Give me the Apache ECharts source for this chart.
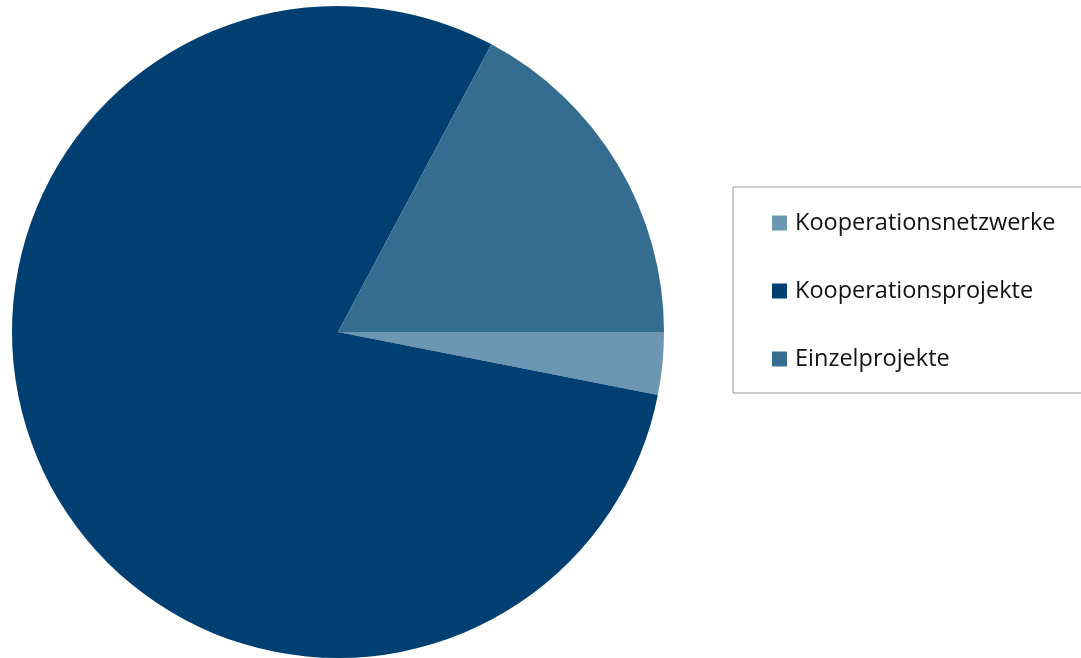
<!DOCTYPE html>
<html>
<head>
<meta charset="utf-8">
<script src="https://cdn.jsdelivr.net/npm/echarts@6/dist/echarts.min.js"></script>
<style>
html,body{margin:0;padding:0;background:#fff;}
#chart{width:1081px;height:658px;}
</style>
</head>
<body>
<div id="chart"></div>
<script>
const categories = ['Kooperationsnetzwerke', 'Kooperationsprojekte', 'Einzelprojekte'];
const values = [3.1, 79.7, 17.2];
const colors = ['#6b97b2', '#003f71', '#356d90'];

const chart = echarts.init(document.getElementById('chart'), null, {renderer: 'canvas'});
chart.setOption({
  animation: false,
  backgroundColor: '#ffffff',
  legend: {
    orient: 'vertical',
    left: 733,
    top: 187,
    padding: [22, 18, 20, 39],
    itemGap: 40,
    itemWidth: 15,
    itemHeight: 15,
    icon: 'rect',
    borderColor: '#9a9a9a',
    borderWidth: 1,
    data: categories,
    textStyle: {
      fontFamily: 'Open Sans',
      fontSize: 23.5,
      color: '#111111',
      lineHeight: 28,
      width: 270,
      padding: [0, 0, 0, 3]
    }
  },
  series: [{
    type: 'pie',
    center: [338, 332],
    radius: [0, 326],
    startAngle: 0,
    clockwise: true,
    label: {show: false},
    labelLine: {show: false},
    emphasis: {disabled: true},
    itemStyle: {borderWidth: 0},
    data: categories.map((c, i) => ({name: c, value: values[i], itemStyle: {color: colors[i]}}))
  }]
});
</script>
</body>
</html>
